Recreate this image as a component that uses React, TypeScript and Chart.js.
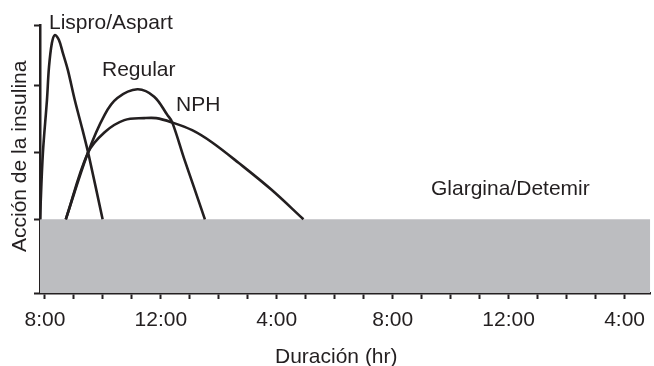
import React, { useEffect, useRef } from 'react';
import { Chart, registerables } from 'chart.js';

Chart.register(...registerables);

// hours after 8:00
const hourTicks = [0, 1, 2, 3, 4, 5, 6, 7, 8, 9, 10, 11, 12, 13, 14, 15, 16, 17, 18, 19, 20];
const labelHours = [0, 4, 8, 12, 16, 20];
const tickLabels = ['8:00', '12:00', '4:00', '8:00', '12:00', '4:00'];
const yTicks = [0, 1.1, 2.1, 3.1, 4];

const lisproT = [-0.17, -0.07, 0.07, 0.14, 0.24, 0.34, 0.48, 0.62, 0.79, 1.03, 1.3, 1.51, 1.99];
const lisproV = [1.1, 2.09, 2.88, 3.37, 3.73, 3.85, 3.78, 3.58, 3.33, 2.88, 2.43, 2.06, 1.1];

const regularT = [0.72, 1.48, 2.06, 2.5, 3.19, 3.77, 4.22, 4.39, 4.8, 5.15, 5.52];
const regularV = [1.1, 2.09, 2.66, 2.91, 3.04, 2.93, 2.66, 2.55, 2.01, 1.57, 1.1];

const nphT = [0.72, 1.48, 2.06, 2.74, 3.43, 3.84, 4.36, 5.08, 5.76, 6.69, 7.82, 8.92];
const nphV = [1.1, 2.09, 2.4, 2.58, 2.61, 2.61, 2.55, 2.43, 2.25, 1.94, 1.54, 1.1];

const glarginaT = [-0.17, 20.89];
const glarginaV = [1.1, 1.1];

const INK = '#231f20';
const GRAY = '#bcbdc0';
const FAMILY = '"Liberation Sans", Arial, Helvetica, sans-serif';

const pts = (t: number[], v: number[]) => t.map((x, i) => ({ x, y: v[i] }));

const textPlugin = {
  id: 'texts',
  afterDraw(chart: any) {
    const ctx = chart.ctx;
    ctx.save();
    ctx.fillStyle = INK;
    ctx.font = `21px ${FAMILY}`;
    ctx.textAlign = 'left';
    ctx.textBaseline = 'alphabetic';
    ctx.fillText('Lispro/Aspart', 49, 29);
    ctx.fillText('Regular', 102, 76);
    ctx.fillText('NPH', 176, 111);
    ctx.fillText('Glargina/Detemir', 431, 195);
    ctx.fillText('Duración (hr)', 275, 363);
    ctx.translate(26, 252);
    ctx.rotate(-Math.PI / 2);
    ctx.fillText('Acción de la insulina', 0, 0);
    ctx.restore();
  },
};

export default function App() {
  const ref = useRef<HTMLCanvasElement | null>(null);
  useEffect(() => {
    if (!ref.current) return;
    const line = (label: string, t: number[], v: number[]) => ({
      label,
      data: pts(t, v),
      borderColor: INK,
      borderWidth: 2.6,
      pointRadius: 0,
      fill: false,
      tension: 0.35,
      order: 1,
    });
    const chart = new Chart(ref.current, {
      type: 'line',
      data: {
        datasets: [
          line('Lispro/Aspart', lisproT, lisproV),
          line('Regular', regularT, regularV),
          line('NPH', nphT, nphV),
          {
            label: 'Glargina/Detemir',
            data: pts(glarginaT, glarginaV),
            borderWidth: 0,
            borderColor: GRAY,
            backgroundColor: GRAY,
            pointRadius: 0,
            fill: 'origin',
            order: 5,
          } as any,
        ],
      },
      options: {
        responsive: false,
        animation: false,
        devicePixelRatio: 1,
        layout: { padding: { top: 25, left: 0, right: 0, bottom: 0 } },
        plugins: { legend: { display: false }, tooltip: { enabled: false } },
        scales: {
          x: {
            type: 'linear',
            min: -0.17,
            max: 20.89,
            afterBuildTicks: (s: any) => {
              s.ticks = hourTicks.map((v) => ({ value: v }));
            },
            afterFit: (s: any) => {
              s.height = 73;
            },
            ticks: {
              autoSkip: false,
              maxRotation: 0,
              padding: 9,
              color: INK,
              font: { size: 21, family: FAMILY },
              callback: (v: any) => {
                const i = labelHours.indexOf(Number(v));
                return i >= 0 ? tickLabels[i] : '';
              },
            },
            grid: {
              drawOnChartArea: false,
              drawTicks: true,
              tickLength: 6,
              tickWidth: 2,
              tickColor: INK,
            },
            border: { display: true, color: INK, width: 2.5 },
          },
          y: {
            type: 'linear',
            min: 0,
            max: 4,
            afterBuildTicks: (s: any) => {
              s.ticks = yTicks.map((v) => ({ value: v }));
            },
            afterFit: (s: any) => {
              s.width = 40;
            },
            ticks: { display: false },
            grid: {
              drawOnChartArea: false,
              drawTicks: true,
              tickLength: 6,
              tickWidth: 2,
              tickColor: INK,
            },
            border: { display: true, color: INK, width: 2.5 },
          },
        },
      },
      plugins: [textPlugin],
    });
    return () => chart.destroy();
  }, []);
  return (
    <div style={{ position: 'absolute', left: 0, top: 0, width: 654, height: 366, background: '#fff' }}>
      <canvas ref={ref} width={654} height={366} />
    </div>
  );
}
